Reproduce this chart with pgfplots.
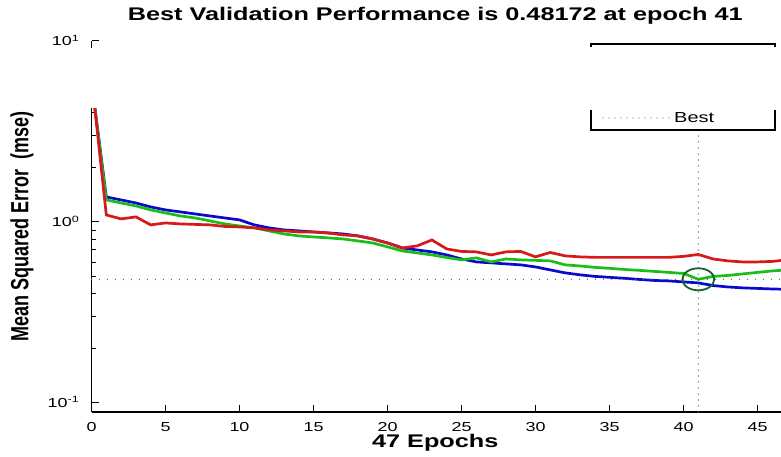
\documentclass[border=0pt]{standalone}
\usepackage{fontspec}
\setmainfont{Liberation Sans}[FakeStretch=1.38]
\newfontfamily\plainsans{Liberation Sans}
\usepackage{graphicx}
\usepackage{pgfplots}
\pgfplotsset{compat=1.18}
\definecolor{trainc}{RGB}{10,10,205}
\definecolor{valc}{RGB}{25,190,25}
\definecolor{testc}{RGB}{215,25,25}
\definecolor{bestc}{RGB}{60,130,95}
\definecolor{circc}{RGB}{20,100,45}
\begin{document}
\begin{tikzpicture}[x=1pt,y=1pt]
\path[use as bounding box] (0,0) rectangle (781,457);
\begin{axis}[
  at={(91.5pt,45pt)}, anchor=south west,
  scale only axis, width=695.6pt, height=371pt,
  xmin=0, xmax=47, ymode=log, ymin=0.089, ymax=10,
  axis x line*=bottom, axis y line*=left,
  axis line style={line width=1.3pt, black},
  tick align=inside, major tick length=7pt, minor tick length=4pt,
  every tick/.style={black, line width=1pt},
  xtick={0,5,...,45}, xticklabels={0,5,10,15,20,25,30,35,40,45},
  ytick={0.1,1,10},
  yticklabels={10\textsuperscript{-1},10\textsuperscript{0},10\textsuperscript{1}},
  minor ytick={0.2,0.3,0.4,0.5,0.6,0.7,0.8,0.9,2,3,4,5,6,7,8,9},
  clip=false,
  tick label style={font=\fontsize{13}{15}\selectfont},
  xticklabel style={anchor=base, inner sep=0pt, yshift=-19pt},
  yticklabel style={anchor=base east, inner sep=0pt, xshift=-12pt, yshift=-4.5pt},
  title={Best Validation Performance is 0.48172 at epoch 41},
  title style={font=\bfseries\fontsize{18.3}{20}\selectfont, at={(axis description cs:0.5,1)}, anchor=base, yshift=14.5pt, xshift=-4pt, inner sep=0pt},
  xlabel={47 Epochs},
  xlabel style={font=\bfseries\fontsize{18.3}{20}\selectfont, at={(axis description cs:0.5,0)}, anchor=base, yshift=-35pt, xshift=-4pt, inner sep=0pt},
  ylabel={\scalebox{1}[1.38]{Mean Squared Error\ \ (mse)}},
  ylabel style={font=\plainsans\bfseries\fontsize{18}{20}\selectfont, at={(axis description cs:-0.0999,0.5)}, anchor=center, inner sep=0pt},
]
\addplot[trainc, line width=2.7pt] coordinates {
(0,6.0)(1,1.374)(2,1.323)(3,1.273)(4,1.21)(5,1.165)(6,1.136)(7,1.107)(8,1.079)(9,1.052)(10,1.026)
(11,0.963)(12,0.927)(13,0.903)(14,0.892)(15,0.88)(16,0.869)(17,0.858)(18,0.837)(19,0.805)(20,0.765)
(21,0.718)(22,0.70)(23,0.683)(24,0.657)(25,0.624)(26,0.601)(27,0.594)(28,0.586)(29,0.579)(30,0.564)
(31,0.543)(32,0.523)(33,0.51)(34,0.50)(35,0.494)(36,0.488)(37,0.481)(38,0.475)(39,0.472)(40,0.466)
(41,0.46)(42,0.445)(43,0.437)(44,0.432)(45,0.429)(46,0.426)(47,0.424)};
\addplot[valc, line width=2.7pt] coordinates {
(0,6.0)(1,1.323)(2,1.273)(3,1.226)(4,1.165)(5,1.121)(6,1.079)(7,1.052)(8,1.013)(9,0.975)(10,0.95)
(11,0.927)(12,0.892)(13,0.858)(14,0.837)(15,0.826)(16,0.816)(17,0.805)(18,0.785)(19,0.765)(20,0.728)
(21,0.691)(22,0.674)(23,0.657)(24,0.636)(25,0.617)(26,0.633)(27,0.601)(28,0.624)(29,0.617)(30,0.613)
(31,0.609)(32,0.579)(33,0.571)(34,0.561)(35,0.554)(36,0.546)(37,0.54)(38,0.533)(39,0.526)(40,0.519)
(41,0.48172)(42,0.50)(43,0.506)(44,0.516)(45,0.526)(46,0.536)(47,0.543)};
\addplot[testc, line width=2.7pt] coordinates {
(0,6.3)(1,1.093)(2,1.039)(3,1.066)(4,0.963)(5,0.987)(6,0.975)(7,0.969)(8,0.963)(9,0.944)(10,0.938)
(11,0.927)(12,0.903)(13,0.892)(14,0.88)(15,0.88)(16,0.869)(17,0.847)(18,0.837)(19,0.805)(20,0.765)
(21,0.718)(22,0.737)(23,0.795)(24,0.709)(25,0.687)(26,0.683)(27,0.657)(28,0.683)(29,0.687)(30,0.641)
(31,0.678)(32,0.649)(33,0.641)(34,0.637)(35,0.637)(36,0.637)(37,0.637)(38,0.637)(39,0.637)(40,0.645)
(41,0.661)(42,0.624)(43,0.609)(44,0.601)(45,0.601)(46,0.605)(47,0.617)};
\addplot[bestc, line width=1.4pt, line cap=round, dash pattern=on 0pt off 8pt] coordinates {(0,0.48172)(47,0.48172)};
\addplot[bestc, line width=1.4pt, line cap=round, dash pattern=on 0pt off 6pt] coordinates {(41,0.089)(41,10)};
\addplot[circc, line width=1.8pt, only marks, mark=o, mark size=11pt, mark options={xscale=1.45}] coordinates {(41,0.48172)};
\end{axis}
% erased upper region of the original figure
\fill[white] (85,349) rectangle (781,409);
% legend (only the Best entry remains in the original)
\fill[white] (591,327) rectangle (775,413);
\draw[black, line width=1.2pt] (591,410) -- (591,413) -- (775,413) -- (775,410);
\draw[black, line width=1.2pt] (591,347) -- (591,327) -- (775,327) -- (775,347);
\draw[bestc, line width=1.2pt, line cap=round, dash pattern=on 0pt off 6pt] (603,339) -- (671,339);
\node[anchor=west, inner sep=0pt, font=\fontsize{14.5}{16}\selectfont] at (674,339) {Best};
\end{tikzpicture}
\end{document}
